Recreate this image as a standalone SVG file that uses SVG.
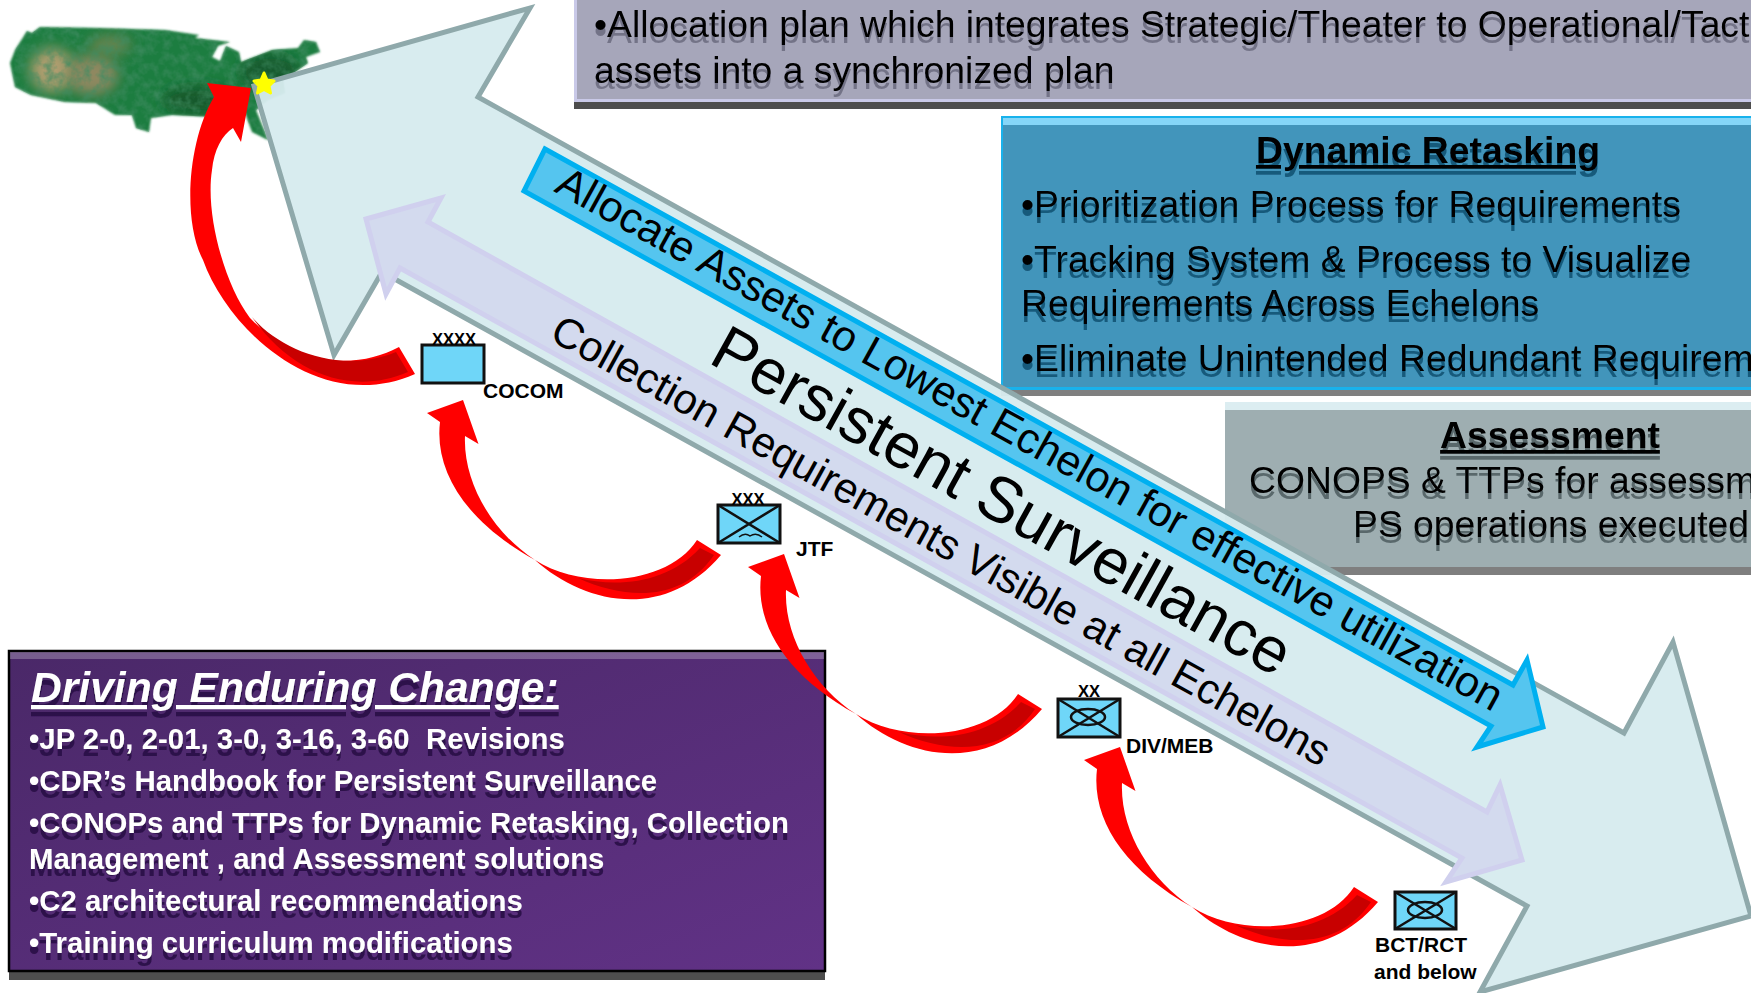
<svg xmlns="http://www.w3.org/2000/svg" width="1751" height="993" viewBox="0 0 1751 993">
<style>
text{font-family:"Liberation Sans",Arial,sans-serif;white-space:pre}
.blk{fill:#000}
.pt{font-size:37.3px}
.sym{font-size:16.5px;font-weight:bold}
.lab{font-size:21px;font-weight:bold}
.white{fill:#fff;font-size:29.4px;font-weight:bold}
.u{text-decoration:underline;font-weight:bold}
.box{fill:#6fd6f8;stroke:#111;stroke-width:3}
.ln{fill:none;stroke:#111;stroke-width:2.5}
.red{fill:#f00}
.dark{fill:#c80000}
</style>
<defs>
<filter id="sGray" x="-5%" y="-20%" width="110%" height="150%"><feDropShadow dx="0" dy="6" stdDeviation="0.4" flood-color="#5d5d72" flood-opacity="0.7"/></filter>
<filter id="sBlue" x="-5%" y="-20%" width="110%" height="150%"><feDropShadow dx="0" dy="6" stdDeviation="0.4" flood-color="#0f4f6f" flood-opacity="0.85"/></filter>
<filter id="sAss" x="-5%" y="-20%" width="110%" height="150%"><feDropShadow dx="0" dy="6" stdDeviation="0.4" flood-color="#4e5c5e" flood-opacity="0.85"/></filter>
<filter id="sPur" x="-5%" y="-20%" width="110%" height="150%"><feDropShadow dx="0" dy="7" stdDeviation="0.4" flood-color="#2c1046" flood-opacity="0.9"/></filter>
<filter id="soft" x="-5%" y="-5%" width="110%" height="110%"><feGaussianBlur stdDeviation="0.8"/></filter>
<filter id="blob" x="-50%" y="-50%" width="200%" height="200%"><feGaussianBlur stdDeviation="7"/></filter>
<filter id="tex" x="0" y="0" width="100%" height="100%"><feTurbulence type="fractalNoise" baseFrequency="0.11" numOctaves="3" seed="7"/><feColorMatrix values="0 0 0 0 0.05  0 0 0 0 0.26  0 0 0 0 0.12  1.6 0 0 0 -0.6"/></filter>
<linearGradient id="pur" x1="0" y1="0" x2="1" y2="1"><stop offset="0" stop-color="#4a2868"/><stop offset="1" stop-color="#613286"/></linearGradient>
<clipPath id="us"><path d="M10,63 L15,50 L27,31 L32,33 L40,27 L100,28 L165,30 L199,35 L195,38 L230,42 L218,46 L212,57 L220,61 L226,46 L239,52 L241,62 L272,50 L298,48 L304,40 L316,42 L320,52 L306,57 L308,63 L283,80 L285,93 L268,100 L256,110 L268,140 L252,132 L245,113 L214,117 L172,115 L151,118 L149,132 L136,128 L132,115 L115,115 L96,103 L65,102 L31,95 L15,87 Z"/></clipPath>
<path id="redA" d="M1120,747 L1084,760 L1097,769 C1091,820 1125,870 1192,907 C1240,950 1320,970 1378,902 L1354,887 C1325,932 1240,938 1192,907 C1150,880 1120,830 1122,783 L1135.5,791 Z"/>
<path id="darkA" d="M1235,925 C1275,935 1325,930 1357,895 L1371,902 C1340,948 1285,948 1235,925 Z"/>
</defs>
<rect width="1751" height="993" fill="#fff"/>

<g id="map">
<path d="M10,63 L15,50 L27,31 L32,33 L40,27 L100,28 L165,30 L199,35 L195,38 L230,42 L218,46 L212,57 L220,61 L226,46 L239,52 L241,62 L272,50 L298,48 L304,40 L316,42 L320,52 L306,57 L308,63 L283,80 L285,93 L268,100 L256,110 L268,140 L252,132 L245,113 L214,117 L172,115 L151,118 L149,132 L136,128 L132,115 L115,115 L96,103 L65,102 L31,95 L15,87 Z" fill="#1f7d40" filter="url(#soft)"/>
<g clip-path="url(#us)">
<ellipse cx="52" cy="70" rx="22" ry="22" fill="#b09e70" filter="url(#blob)"/>
<ellipse cx="92" cy="75" rx="26" ry="20" fill="#8f8860" filter="url(#blob)"/>
<ellipse cx="110" cy="45" rx="22" ry="10" fill="#6a8450" filter="url(#blob)"/>
<ellipse cx="200" cy="100" rx="38" ry="14" fill="#14592c" filter="url(#blob)"/>
<ellipse cx="270" cy="72" rx="30" ry="18" fill="#155a2e" filter="url(#blob)"/>
<rect x="5" y="25" width="320" height="120" filter="url(#tex)"/>
</g>
</g>

<g id="panel-allocation">
<rect x="574" y="0" width="1177" height="102" fill="#a6a6ba"/>
<rect x="574" y="0" width="3" height="100" fill="#c9c9e8"/>
<rect x="574" y="99" width="1177" height="3" fill="#c9c9e8"/>
<rect x="574" y="102" width="1177" height="7" fill="#4d4d4d"/>
<g filter="url(#sGray)">
<text class="pt blk" x="594" y="37">•Allocation plan which integrates Strategic/Theater to Operational/Tact</text>
<text class="pt blk" x="594" y="83">assets into a synchronized plan</text>
</g>
</g>

<g id="panel-retasking">
<rect x="1001" y="116" width="750" height="272" fill="#4295bb"/>
<rect x="1001" y="118" width="750" height="7" fill="#85d6f8"/>
<rect x="1001" y="116" width="750" height="2" fill="#18b2ec"/>
<rect x="1001" y="116" width="2" height="272" fill="#18b2ec"/>
<rect x="1001" y="387" width="750" height="3" fill="#18b2ec"/>
<rect x="1001" y="390" width="750" height="6" fill="#7f7f7f"/>
<g filter="url(#sBlue)">
<text class="pt blk u" x="1428" y="163" text-anchor="middle">Dynamic Retasking</text>
<text class="pt blk" x="1021" y="217">•Prioritization Process for Requirements</text>
<text class="pt blk" x="1021" y="272">•Tracking System &amp; Process to Visualize</text>
<text class="pt blk" x="1021" y="316">Requirements Across Echelons</text>
<text class="pt blk" x="1021" y="371">•Eliminate Unintended Redundant Requirem</text>
</g>
</g>

<g id="panel-assessment">
<rect x="1225" y="402" width="526" height="165" fill="#9eaeb1"/>
<rect x="1225" y="402" width="526" height="8" fill="#dcedf1"/>
<rect x="1225" y="567" width="526" height="8" fill="#7f7f7f"/>
<g filter="url(#sAss)">
<text class="pt blk u" x="1550" y="448" text-anchor="middle">Assessment</text>
<text class="pt blk" x="1249" y="493">CONOPS &amp; TTPs for assessm</text>
<text class="pt blk" x="1353" y="537">PS operations executed</text>
</g>
</g>

<g id="panel-change">
<rect x="9" y="660" width="816" height="320" fill="#4d4d4d"/>
<rect x="9" y="651" width="816" height="320" fill="url(#pur)" stroke="#000" stroke-width="2.5"/>
<rect x="10" y="652" width="814" height="7" fill="#fff" fill-opacity="0.25"/>
<g filter="url(#sPur)">
<text x="31" y="702" fill="#fff" font-size="42.6" font-style="italic" class="u">Driving Enduring Change:</text>
<text class="white" x="29" y="749">•JP 2-0, 2-01, 3-0, 3-16, 3-60  Revisions</text>
<text class="white" x="29" y="791">•CDR’s Handbook for Persistent Surveillance</text>
<text class="white" x="29" y="833">•CONOPs and TTPs for Dynamic Retasking, Collection</text>
<text class="white" x="29" y="869">Management , and Assessment solutions</text>
<text class="white" x="29" y="911">•C2 architectural recommendations</text>
<text class="white" x="29" y="953">•Training curriculum modifications</text>
</g>
</g>

<g id="connectors">
<path id="arrow-persistent" d="M254,86 L530,8 L478,97 L1624,733 L1673,642 L1751,916 L1480,992 L1527,906 L382,272 L334,355 Z" fill="#d6ebee" fill-opacity="0.96" stroke="#8fa9ab" stroke-width="5"/>
<path id="arrow-allocate" d="M545,149 L1513,685 L1527,660 L1543,727 L1477,747 L1491,726 L524,191 Z" fill="#55c5ef" stroke="#00b0f0" stroke-width="5"/>
<path id="arrow-collection" d="M366,219 L441,198 L428,222 L1487,812 L1500,785 L1522,860 L1446,882 L1462,858 L400,268 L386,294 Z" fill="#d3daee" stroke="#d0d0ee" stroke-width="5"/>
<g id="red-1">
<path class="red" d="M251,88 L207,83 L214,97 C188,140 182,220 203,260 C228,330 320,416 415,374 L399,347 C360,368 300,370 250,318 C225,285 205,215 212,170 C214,150 222,135 233,128 L241,142 Z"/>
<path class="dark" d="M252,317 C280,350 340,375 396,352 L408,372 C350,397 290,372 252,317 Z"/>
</g>
<g id="red-2" transform="translate(-657,-347)"><use href="#redA" class="red"/><use href="#darkA" class="dark"/></g>
<g id="red-3" transform="translate(-336,-193)"><use href="#redA" class="red"/><use href="#darkA" class="dark"/></g>
<g id="red-4"><use href="#redA" class="red"/><use href="#darkA" class="dark"/></g>
</g>

<g id="diagonal-labels">
<text class="blk" font-size="42.8" transform="translate(553,191) rotate(29)">Allocate Assets to Lowest Echelon for effective utilization</text>
<text class="blk" font-size="64" transform="translate(707,362) rotate(29)">Persistent Surveillance</text>
<text class="blk" font-size="42.3" transform="translate(548,339) rotate(29)">Collection Requirements Visible at all Echelons</text>
</g>

<g id="node-cocom">
<rect class="box" x="422" y="345" width="62" height="38"/>
<text class="sym blk" x="454" y="345" text-anchor="middle">XXXX</text>
<text class="lab blk" x="483" y="398">COCOM</text>
</g>
<g id="node-jtf">
<rect class="box" x="718" y="505" width="62" height="38"/>
<path class="ln" d="M718,505 L780,543 M780,505 L718,543"/>
<path d="M739,537 q6,-5 11,-1 q6,-4 12,1" fill="none" stroke="#111" stroke-width="1.5"/>
<text class="sym blk" x="748" y="505" text-anchor="middle">XXX</text>
<text class="lab blk" x="796" y="556">JTF</text>
</g>
<g id="node-div">
<rect class="box" x="1058" y="699" width="62" height="38"/>
<path class="ln" d="M1058,699 L1120,737 M1120,699 L1058,737"/>
<ellipse class="ln" cx="1088" cy="717" rx="17" ry="8"/>
<text class="sym blk" x="1089" y="697" text-anchor="middle">XX</text>
<text class="lab blk" x="1126" y="753">DIV/MEB</text>
</g>
<g id="node-bct">
<rect class="box" x="1395" y="892" width="61" height="37"/>
<path class="ln" d="M1395,892 L1456,929 M1456,892 L1395,929"/>
<ellipse class="ln" cx="1425" cy="910" rx="17" ry="8"/>
<text class="lab blk" x="1375" y="952">BCT/RCT</text>
<text class="lab blk" x="1374" y="979">and below</text>
</g>
<path id="star" d="M264,73 L267,80 L274,81 L269,86 L270.5,93 L264,89.5 L257.5,93 L259,86 L254,81 L261,80 Z" fill="#ff0" stroke="#ff0" stroke-width="3" stroke-linejoin="round"/>
</svg>
